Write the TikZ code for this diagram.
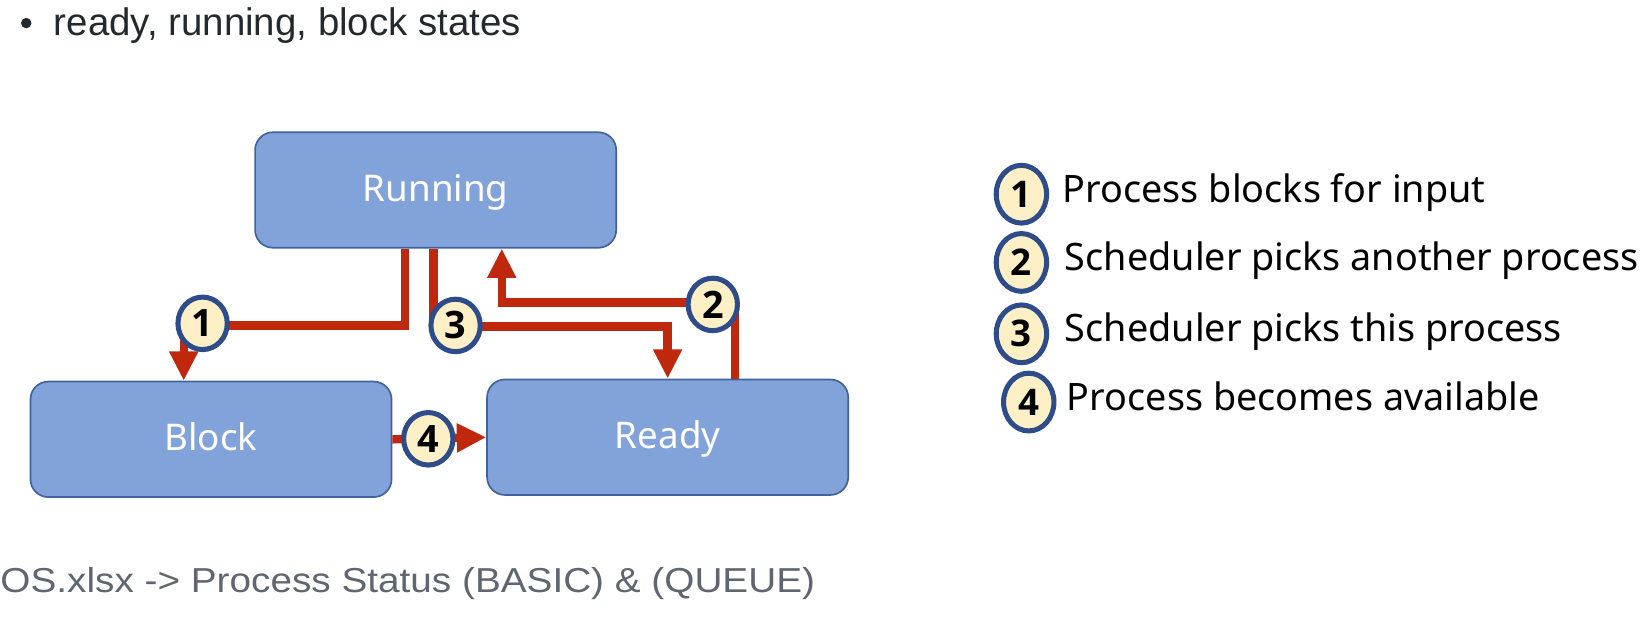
\documentclass[tikz,border=0pt]{standalone}
\usepackage{fontspec}
\setmainfont{Liberation Sans}
\newfontfamily\diag{Noto Sans}
\newfontfamily\numfont{Open Sans}
\usetikzlibrary{arrows.meta,shapes.geometric}
\definecolor{boxfill}{HTML}{82A3DA}
\definecolor{boxline}{HTML}{42629E}
\definecolor{arrred}{HTML}{C0280E}
\definecolor{numfill}{HTML}{FDEFC6}
\definecolor{numline}{HTML}{2E4B8A}
\definecolor{topgray}{HTML}{24292E}
\definecolor{botgray}{HTML}{5F6670}
\tikzset{
  statebox/.style={draw=boxline, line width=0.8pt, fill=boxfill, rounded corners=8.5pt,
    minimum width=172pt, minimum height=55pt, inner sep=0pt, text=white,
    text height=11pt, text depth=0pt,
    font=\diag\fontsize{17.5}{20}\selectfont},
  numdisc/.style={ellipse, draw=numline, line width=2.4pt, fill=numfill,
    minimum width=23.5pt, minimum height=25pt,
    inner sep=0pt, font=\numfont\bfseries\fontsize{18}{20}\selectfont},
  legdisc/.style={numdisc, minimum width=24pt, minimum height=27.5pt,
    font=\numfont\bfseries\fontsize{17.5}{20}\selectfont},
  redline/.style={draw=arrred, line width=4pt},
  redarrow/.style={redline, -{Triangle[width=13pt,length=14pt]}},
  legendtext/.style={anchor=west, inner sep=0pt, font=\diag\fontsize{18}{21}\selectfont}
}
\begin{document}
\begin{tikzpicture}[x=0.5pt, y=-0.5pt]
\useasboundingbox (0,0) rectangle (1568,600);
% header
\node[fill=topgray, circle, inner sep=0pt, minimum size=5pt] (bul) at (25,22) {};
\node[anchor=base west, inner sep=0pt, text=topgray, font=\fontsize{18.3}{21}\selectfont] (head) at (51,34) {ready, running, block states};
% boxes
\node[statebox] (run) at (415,181) {Running};
\node[statebox] (blk) at (201,418.5) {Block};
\node[statebox] (rdy) at (636,416.5) {Ready};
% corner coordinates
\coordinate (a1) at (386,310);
\coordinate (b1) at (175,310);
\coordinate (a3) at (413,311);
\coordinate (b3) at (636,311);
\coordinate (a2) at (700,288);
\coordinate (b2) at (478,288);
% connectors
\draw[redarrow] (run.south -| a1) -- (a1) -- (b1) -- (blk.north -| b1);
\draw[redarrow] (run.south -| a3) -- (a3) -- (b3) -- (rdy.north -| b3);
\draw[redarrow] (rdy.north -| a2) -- (a2) -- (b2) -- (run.south -| b2);
\draw[redarrow] (blk.east) -- (rdy.west);
% number discs
\node[numdisc] (n1) at (193,308) {1};
\node[numdisc] (n3) at (434,310) {3};
\node[numdisc] (n2) at (679,290) {2};
\node[numdisc] (n4) at (408,418) {4};
% legend
\node[legdisc] (l1) at (973,185) {1};
\node[legdisc] (l2) at (973,250) {2};
\node[legdisc] (l3) at (973,318) {3};
\node[legdisc] (l4) at (980,383) {4};
\node[legendtext] (t1) at (1012,183) {Process blocks for input};
\node[legendtext] (t2) at (1014,248) {Scheduler picks another process};
\node[legendtext] (t3) at (1014,316) {Scheduler picks this process};
\node[legendtext] (t4) at (1016,378) {Process becomes available};
% footer
\node[anchor=base west, inner sep=0pt, text=botgray, xscale=1.118, font=\fontsize{16.5}{19}\selectfont] (foot) at (0,564) {OS.xlsx -> Process Status (BASIC) \& (QUEUE)};
\end{tikzpicture}
\end{document}
